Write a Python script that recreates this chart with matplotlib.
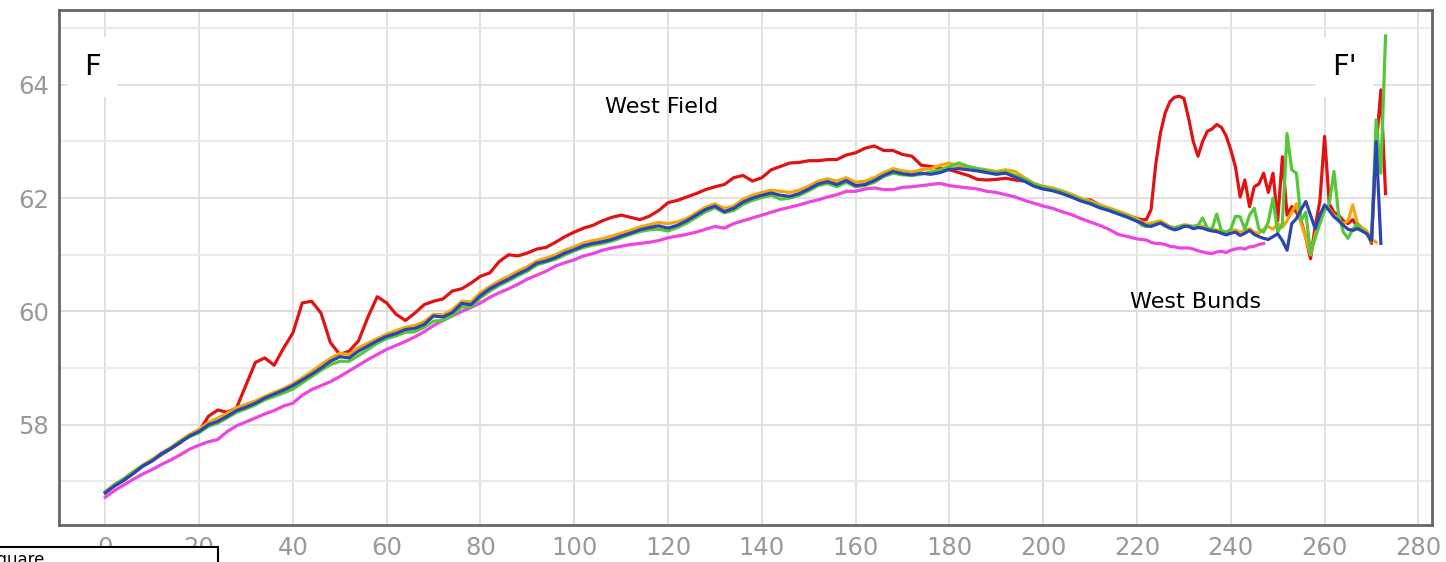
import matplotlib

matplotlib.use("Agg")
import matplotlib.pyplot as plt
import numpy as np
from matplotlib import patches

plt.rcParams["font.family"] = ["DejaVu Sans"]

# distance along the section: every 2 units up to 220, then every unit
X = list(range(0, 221, 2)) + list(range(221, 274))

blue = [
    56.80, 56.92, 57.02, 57.14, 57.27, 57.36, 57.49, 57.58, 57.69, 57.80,
    57.88, 58.00, 58.06, 58.15, 58.25, 58.31, 58.38, 58.47, 58.54, 58.61,
    58.69, 58.79, 58.89, 59.00, 59.12, 59.20, 59.18, 59.30, 59.39, 59.48,
    59.56, 59.61, 59.68, 59.70, 59.77, 59.92, 59.90, 59.98, 60.14, 60.12,
    60.28, 60.40, 60.49, 60.57, 60.66, 60.74, 60.85, 60.89, 60.95, 61.03,
    61.09, 61.16, 61.20, 61.23, 61.27, 61.33, 61.38, 61.44, 61.48, 61.51,
    61.47, 61.52, 61.60, 61.70, 61.80, 61.86, 61.76, 61.82, 61.93, 62.00,
    62.05, 62.09, 62.05, 62.03, 62.08, 62.16, 62.25, 62.29, 62.24, 62.31,
    62.22, 62.24, 62.31, 62.40, 62.47, 62.43, 62.41, 62.44, 62.42, 62.45,
    62.51, 62.52, 62.50, 62.48, 62.45, 62.42, 62.44, 62.37, 62.30, 62.21,
    62.16, 62.13, 62.08, 62.02, 61.95, 61.90, 61.83, 61.78, 61.72, 61.66,
    61.59,
    61.56, 61.51, 61.50, 61.53, 61.56, 61.52, 61.47, 61.44, 61.46, 61.50,
    61.50, 61.46, 61.48, 61.47, 61.44, 61.42, 61.41, 61.38, 61.35, 61.38,
    61.40, 61.34, 61.38, 61.43, 61.36, 61.32, 61.29, 61.27, 61.32, 61.37,
    61.25, 61.08, 61.55, 61.64, 61.80, 61.94, 61.70, 61.46, 61.70, 61.88,
    61.78, 61.67, 61.60, 61.52, 61.45, 61.43, 61.46, 61.42, 61.37, 61.25,
    63.00, 61.20, np.nan,
]

orange = [
    56.82, 56.95, 57.05, 57.17, 57.29, 57.39, 57.50, 57.60, 57.72, 57.83,
    57.92, 58.04, 58.12, 58.20, 58.30, 58.36, 58.42, 58.50, 58.57, 58.64,
    58.72, 58.83, 58.94, 59.06, 59.17, 59.26, 59.24, 59.36, 59.44, 59.52,
    59.60, 59.66, 59.72, 59.75, 59.82, 59.95, 59.94, 60.03, 60.18, 60.17,
    60.33, 60.44, 60.54, 60.62, 60.71, 60.79, 60.89, 60.94, 61.00, 61.08,
    61.14, 61.21, 61.25, 61.28, 61.33, 61.38, 61.43, 61.49, 61.53, 61.57,
    61.55, 61.58, 61.64, 61.74, 61.84, 61.90, 61.82, 61.86, 61.98, 62.05,
    62.10, 62.14, 62.12, 62.10, 62.14, 62.21, 62.30, 62.34, 62.30, 62.36,
    62.28, 62.30, 62.36, 62.45, 62.52, 62.48, 62.46, 62.50, 62.52, 62.58,
    62.62, 62.56, 62.54, 62.52, 62.50, 62.47, 62.50, 62.47, 62.36, 62.26,
    62.21, 62.18, 62.13, 62.07, 62.00, 61.95, 61.88, 61.83, 61.77, 61.71,
    61.63,
    61.58, 61.55, 61.56, 61.58, 61.60, 61.55, 61.50, 61.48, 61.50, 61.53,
    61.52, 61.50, 61.52, 61.50, 61.47, 61.45, 61.44, 61.42, 61.40, 61.42,
    61.44, 61.40, 61.42, 61.46, 61.40, 61.38, 61.45, 61.50, 61.45, 61.55,
    61.48, 61.60, 61.75, 61.90, 61.55, 61.30, 61.00, 61.35, 61.65, 61.85,
    61.80, 61.70, 61.62, 61.55, 61.60, 61.88, 61.55, 61.48, 61.42, 61.28,
    61.22, np.nan, np.nan,
]

green = [
    56.81, 56.94, 57.05, 57.17, 57.28, 57.37, 57.48, 57.59, 57.70, 57.79,
    57.86, 57.97, 58.03, 58.12, 58.22, 58.28, 58.35, 58.44, 58.50, 58.56,
    58.63, 58.74, 58.85, 58.96, 59.06, 59.12, 59.12, 59.22, 59.33, 59.44,
    59.52, 59.57, 59.63, 59.64, 59.72, 59.83, 59.84, 59.93, 60.08, 60.08,
    60.24, 60.36, 60.46, 60.54, 60.63, 60.71, 60.82, 60.87, 60.92, 61.00,
    61.07, 61.13, 61.17, 61.20, 61.24, 61.30, 61.36, 61.41, 61.44, 61.45,
    61.42, 61.48, 61.56, 61.66, 61.76, 61.83, 61.74, 61.78, 61.89, 61.96,
    62.01, 62.05, 61.98, 62.00, 62.05, 62.13, 62.22, 62.26, 62.20, 62.28,
    62.20, 62.22, 62.28, 62.38, 62.44, 62.41, 62.40, 62.42, 62.46, 62.50,
    62.56, 62.62, 62.56, 62.52, 62.48, 62.45, 62.46, 62.40, 62.34, 62.25,
    62.19, 62.15, 62.11, 62.04, 61.97, 61.92, 61.85, 61.80, 61.74, 61.68,
    61.60,
    61.52, 61.50, 61.52, 61.55, 61.56, 61.50, 61.48, 61.47, 61.50, 61.52,
    61.50, 61.50, 61.52, 61.65, 61.47, 61.45, 61.72, 61.42, 61.40, 61.45,
    61.68, 61.67, 61.45, 61.70, 61.82, 61.45, 61.40, 61.58, 62.00, 61.40,
    61.55, 63.14, 62.50, 62.44, 61.60, 61.75, 61.02, 61.30, 61.55, 61.78,
    61.90, 62.47, 61.70, 61.40, 61.29, 61.45, 61.55, 61.42, 61.38, 61.23,
    63.38, 62.44, 64.86,
]

red = [
    56.80, 56.93, 57.03, 57.15, 57.27, 57.37, 57.47, 57.58, 57.68, 57.82,
    57.88, 58.15, 58.26, 58.22, 58.30, 58.70, 59.10, 59.18, 59.05, 59.35,
    59.62, 60.15, 60.18, 59.97, 59.45, 59.24, 59.30, 59.48, 59.90, 60.26,
    60.15, 59.95, 59.84, 59.97, 60.12, 60.18, 60.22, 60.36, 60.40, 60.50,
    60.62, 60.68, 60.88, 61.00, 60.98, 61.03, 61.10, 61.13, 61.22, 61.32,
    61.40, 61.47, 61.52, 61.60, 61.66, 61.70, 61.66, 61.62, 61.68, 61.78,
    61.92, 61.96, 62.02, 62.08, 62.15, 62.20, 62.24, 62.36, 62.40, 62.30,
    62.36, 62.50, 62.56, 62.62, 62.63, 62.66, 62.66, 62.68, 62.68, 62.76,
    62.80, 62.88, 62.92, 62.84, 62.84, 62.77, 62.74, 62.58, 62.56, 62.53,
    62.50, 62.45, 62.40, 62.33, 62.32, 62.33, 62.35, 62.32, 62.30, 62.24,
    62.18, 62.14, 62.10, 62.03, 61.96, 61.97, 61.88, 61.80, 61.75, 61.70,
    61.64,
    61.62, 61.62, 61.80, 62.60, 63.15, 63.50, 63.70, 63.78, 63.80, 63.76,
    63.41, 63.00, 62.74, 63.00, 63.18, 63.22, 63.30, 63.25, 63.10, 62.85,
    62.55, 62.02, 62.32, 61.85, 62.20, 62.25, 62.44, 62.10, 62.44, 61.60,
    62.73, 61.70, 61.85, 61.75, 61.60, 61.30, 60.93, 61.50, 61.95, 63.09,
    61.90, 61.75, 61.70, 61.60, 61.55, 61.62, 61.50, 61.45, 61.40, 61.20,
    62.90, 63.91, 62.08,
]

magenta = [
    56.72, 56.84, 56.94, 57.04, 57.13, 57.21, 57.30, 57.38, 57.47, 57.57,
    57.64, 57.70, 57.74, 57.88, 57.98, 58.05, 58.12, 58.19, 58.25, 58.33,
    58.38, 58.52, 58.62, 58.69, 58.76, 58.85, 58.95, 59.05, 59.15, 59.24,
    59.33, 59.40, 59.47, 59.55, 59.64, 59.75, 59.84, 59.92, 60.00, 60.07,
    60.15, 60.25, 60.33, 60.40, 60.48, 60.57, 60.64, 60.71, 60.80, 60.86,
    60.91, 60.98, 61.02, 61.08, 61.12, 61.15, 61.18, 61.20, 61.22, 61.25,
    61.30, 61.33, 61.36, 61.40, 61.45, 61.50, 61.47, 61.55, 61.60, 61.65,
    61.70, 61.75, 61.80, 61.84, 61.88, 61.93, 61.97, 62.02, 62.06, 62.12,
    62.12, 62.16, 62.18, 62.15, 62.15, 62.19, 62.20, 62.22, 62.24, 62.26,
    62.22, 62.20, 62.18, 62.16, 62.12, 62.10, 62.06, 62.02, 61.96, 61.91,
    61.86, 61.82, 61.76, 61.71, 61.64, 61.58, 61.52, 61.45, 61.36, 61.32,
    61.28,
    61.27, 61.26, 61.22, 61.20, 61.20, 61.18, 61.15, 61.14, 61.12, 61.12,
    61.12, 61.10, 61.07, 61.05, 61.03, 61.02, 61.05, 61.06, 61.04, 61.08,
    61.10, 61.12, 61.10, 61.14, 61.15, 61.18, 61.20,
]

x_ticks = list(range(0, 281, 20))
y_ticks = [58, 60, 62, 64]
y_minor = [57, 59, 61, 63, 65]
# a few grid lines come out darker in the original
dark_x = [100, 200]
dark_y = [60]

fig = plt.figure(figsize=(14.46, 5.62), dpi=100)
ax = fig.add_axes([0.0408, 0.0658, 0.9495, 0.9164])

lw = 2.3
ax.plot(X[:len(magenta)], magenta, color="#ee44e0", lw=lw, zorder=3)
ax.plot(X, red, color="#e31212", lw=lw, zorder=4)
ax.plot(X, orange, color="#f5a70a", lw=lw, zorder=5)
ax.plot(X, green, color="#55c83a", lw=lw, zorder=6)
ax.plot(X, blue, color="#2b45b5", lw=lw, zorder=7)

ax.set_xlim(-9.87, 282.9)
ax.set_ylim(56.23, 65.32)
ax.set_xticks(x_ticks)
ax.set_yticks(y_ticks)
ax.set_yticks(y_minor, minor=True)
ax.grid(True, which="major", color="#dedede", lw=1.3, zorder=0)
ax.grid(True, which="minor", axis="y", color="#e8e8e8", lw=1.3, zorder=0)
for v in dark_x:
    ax.axvline(v, color="#c6c6c6", lw=1.3, zorder=1)
for v in dark_y:
    ax.axhline(v, color="#c6c6c6", lw=1.3, zorder=1)
ax.tick_params(which="both", length=0, labelsize=17.5, labelcolor="#999999")
ax.tick_params(axis="x", pad=8)
ax.tick_params(axis="y", pad=7)
for s in ax.spines.values():
    s.set_color("#666666")
    s.set_linewidth(2)

box = dict(facecolor="white", edgecolor="none", boxstyle="square,pad=0.55")
ax.text(-2.8, 64.32, "F", fontsize=21, ha="center", va="center", bbox=box, zorder=8)
ax.text(264.3, 64.32, "F'", fontsize=21, ha="center", va="center", bbox=box, zorder=8)
ax.text(118.7, 63.61, "West Field", fontsize=16, ha="center", va="center", zorder=8)
ax.text(232.5, 60.17, "West Bunds", fontsize=16, ha="center", va="center", zorder=8)

# legend box cut off at the bottom left of the page
rect = patches.Rectangle(
    (-0.01, -0.05), 0.1608, 0.076, transform=fig.transFigure,
    facecolor="white", edgecolor="black", linewidth=1.5, zorder=10,
)
fig.add_artist(rect)
fig.text(-0.009, -0.006, "Square", fontsize=12, ha="left", va="baseline", zorder=11)

fig.savefig("out.png", dpi=100)
